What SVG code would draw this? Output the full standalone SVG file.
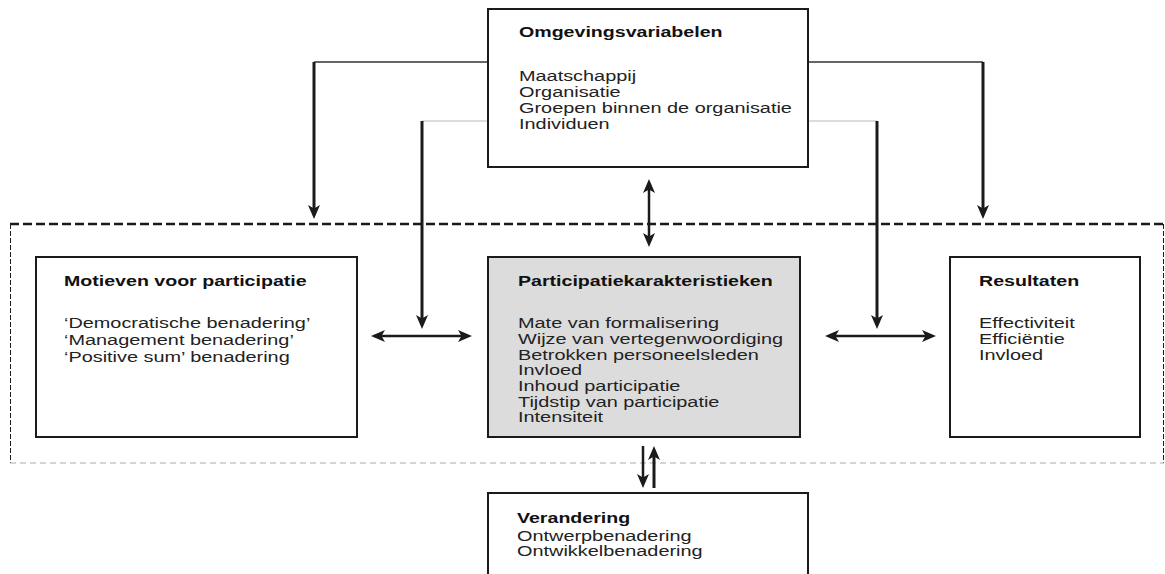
<svg xmlns="http://www.w3.org/2000/svg" width="1165" height="574" viewBox="0 0 1165 574">
<style>
  .box{fill:#fff;stroke:#1c1a1a;stroke-width:2}
  .grey{fill:#dcdcdc;stroke:#1c1a1a;stroke-width:2}
  .b{font-family:"Liberation Sans",Arial,sans-serif;font-weight:bold;font-size:14px;fill:#111}
  .r{font-family:"Liberation Sans",Arial,sans-serif;font-size:14px;fill:#222}
  .thick{stroke:#1c1a1a;stroke-width:3;fill:none}
  .med{stroke:#1c1a1a;stroke-width:2.5;fill:none}
  .thin{stroke:#333;stroke-width:1.6;fill:none}
  .faint{stroke:#bbb;stroke-width:1;fill:none}
</style>
<defs>
  <marker id="ah" markerUnits="userSpaceOnUse" markerWidth="14" markerHeight="12" viewBox="0 0 14 12" refX="10" refY="6" orient="auto-start-reverse">
    <path d="M0,0 L14,6 L0,12 L3.5,6 z" fill="#1c1a1a"/>
  </marker>
</defs>

<g id="frame">
  <line x1="10" y1="224" x2="1164" y2="224" stroke="#1c1a1a" stroke-width="2.5" stroke-dasharray="9,4"/>
  <line x1="10.5" y1="224" x2="10.5" y2="463" stroke="#1c1a1a" stroke-width="1" stroke-dasharray="5,2"/>
  <line x1="1163.5" y1="224" x2="1163.5" y2="463" stroke="#1c1a1a" stroke-width="1" stroke-dasharray="5,2"/>
  <line x1="10" y1="463" x2="1164" y2="463" stroke="#aaa" stroke-width="1" stroke-dasharray="6,4"/>
</g>

<g id="connectors">
  <polyline class="thin" points="488,62 314,62"/>
  <line class="thick" x1="314" y1="62" x2="314" y2="215" marker-end="url(#ah)"/>
  <polyline class="thin" points="808,62 983,62"/>
  <line class="thick" x1="983" y1="62" x2="983" y2="215" marker-end="url(#ah)"/>
  <line class="faint" x1="488" y1="121" x2="422" y2="121"/>
  <line class="thick" x1="422" y1="121" x2="422" y2="325" marker-end="url(#ah)"/>
  <line class="faint" x1="808" y1="121" x2="877" y2="121"/>
  <line class="thick" x1="877" y1="121" x2="877" y2="325" marker-end="url(#ah)"/>
  <line class="med" x1="375" y1="336" x2="468" y2="336" marker-start="url(#ah)" marker-end="url(#ah)"/>
  <line class="med" x1="829" y1="336" x2="932" y2="336" marker-start="url(#ah)" marker-end="url(#ah)"/>
  <line class="med" x1="649" y1="183" x2="649" y2="243" marker-start="url(#ah)" marker-end="url(#ah)"/>
  <line class="med" x1="643" y1="446" x2="643" y2="484" marker-end="url(#ah)"/>
  <line class="thick" x1="654" y1="488" x2="654" y2="450" marker-end="url(#ah)"/>
</g>

<g id="omgevingsvariabelen">
  <rect class="box" x="488" y="9" width="320" height="158"/>
  <text class="b" transform="translate(519 37) scale(1.40 1)">Omgevingsvariabelen</text>
  <text class="r" transform="translate(519 0) scale(1.42 1)"><tspan x="0" y="81">Maatschappij</tspan><tspan x="0" y="97">Organisatie</tspan><tspan x="0" y="113">Groepen binnen de organisatie</tspan><tspan x="0" y="129">Individuen</tspan></text>
</g>

<g id="motieven">
  <rect class="box" x="36" y="257" width="321" height="180"/>
  <text class="b" transform="translate(64 286) scale(1.40 1)">Motieven voor participatie</text>
  <text class="r" transform="translate(64 0) scale(1.42 1)"><tspan x="0" y="328">‘Democratische benadering’</tspan><tspan x="0" y="345">‘Management benadering’</tspan><tspan x="0" y="362">‘Positive sum’ benadering</tspan></text>
</g>

<g id="participatiekarakteristieken">
  <rect class="grey" x="488" y="257" width="312" height="180"/>
  <text class="b" transform="translate(518 286) scale(1.40 1)">Participatiekarakteristieken</text>
  <text class="r" transform="translate(518 0) scale(1.42 1)"><tspan x="0" y="328">Mate van formalisering</tspan><tspan x="0" y="344">Wijze van vertegenwoordiging</tspan><tspan x="0" y="360">Betrokken personeelsleden</tspan><tspan x="0" y="375">Invloed</tspan><tspan x="0" y="391">Inhoud participatie</tspan><tspan x="0" y="407">Tijdstip van participatie</tspan><tspan x="0" y="422">Intensiteit</tspan></text>
</g>

<g id="resultaten">
  <rect class="box" x="950" y="257" width="190" height="180"/>
  <text class="b" transform="translate(979 286) scale(1.40 1)">Resultaten</text>
  <text class="r" transform="translate(979 0) scale(1.42 1)"><tspan x="0" y="328">Effectiviteit</tspan><tspan x="0" y="344">Efficiëntie</tspan><tspan x="0" y="360">Invloed</tspan></text>
</g>

<g id="verandering">
  <rect class="box" x="488" y="493" width="320" height="100"/>
  <text class="b" transform="translate(517 523) scale(1.40 1)">Verandering</text>
  <text class="r" transform="translate(517 0) scale(1.42 1)"><tspan x="0" y="541">Ontwerpbenadering</tspan><tspan x="0" y="556">Ontwikkelbenadering</tspan></text>
</g>
</svg>
